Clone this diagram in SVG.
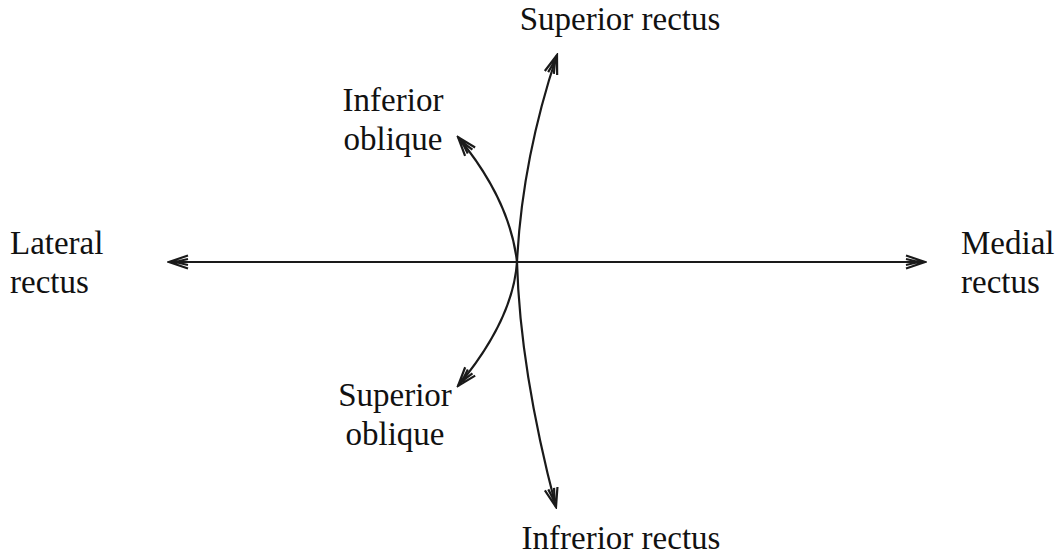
<svg xmlns="http://www.w3.org/2000/svg" width="1064" height="560" viewBox="0 0 1064 560">
<style>
.lbl{font-family:"Liberation Serif","Times New Roman",serif;font-size:33px;fill:#111}
.ln{fill:none;stroke:#1a1a1a;stroke-width:2.2}
</style>
<defs>
<marker id="ah" viewBox="-20 -8 22 16" refX="0" refY="0" markerWidth="22" markerHeight="16" markerUnits="userSpaceOnUse" orient="auto-start-reverse">
<path d="M-19,-6.5 L0,0 L-19,6.5 M-19,-3 L-6,0 L-19,3" fill="none" stroke="#1a1a1a" stroke-width="2.2"/>
</marker>
</defs>
<rect width="1064" height="560" fill="#fff"/>
<g id="connectors">
<path class="ln" d="M169,262 L925,262" marker-start="url(#ah)" marker-end="url(#ah)"/>
<path class="ln" d="M517,262 Q522,160 557,55" marker-end="url(#ah)"/>
<path class="ln" d="M517,262 Q520,370 556,507" marker-end="url(#ah)"/>
<path class="ln" d="M517,262 Q510,200 458,137" marker-end="url(#ah)"/>
<path class="ln" d="M517,262 Q513,320 458,386" marker-end="url(#ah)"/>
</g>
<g id="superior-rectus"><text class="lbl" x="620" y="30" text-anchor="middle">Superior rectus</text></g>
<g id="inferior-oblique"><text class="lbl" x="393" y="111" text-anchor="middle">Inferior</text><text class="lbl" x="393" y="150" text-anchor="middle">oblique</text></g>
<g id="lateral-rectus"><text class="lbl" x="10" y="254">Lateral</text><text class="lbl" x="10" y="293">rectus</text></g>
<g id="medial-rectus"><text class="lbl" x="961" y="254">Medial</text><text class="lbl" x="961" y="293">rectus</text></g>
<g id="superior-oblique"><text class="lbl" x="395" y="406" text-anchor="middle">Superior</text><text class="lbl" x="395" y="445" text-anchor="middle">oblique</text></g>
<g id="inferior-rectus"><text class="lbl" x="621" y="549" text-anchor="middle">Infrerior rectus</text></g>
</svg>
